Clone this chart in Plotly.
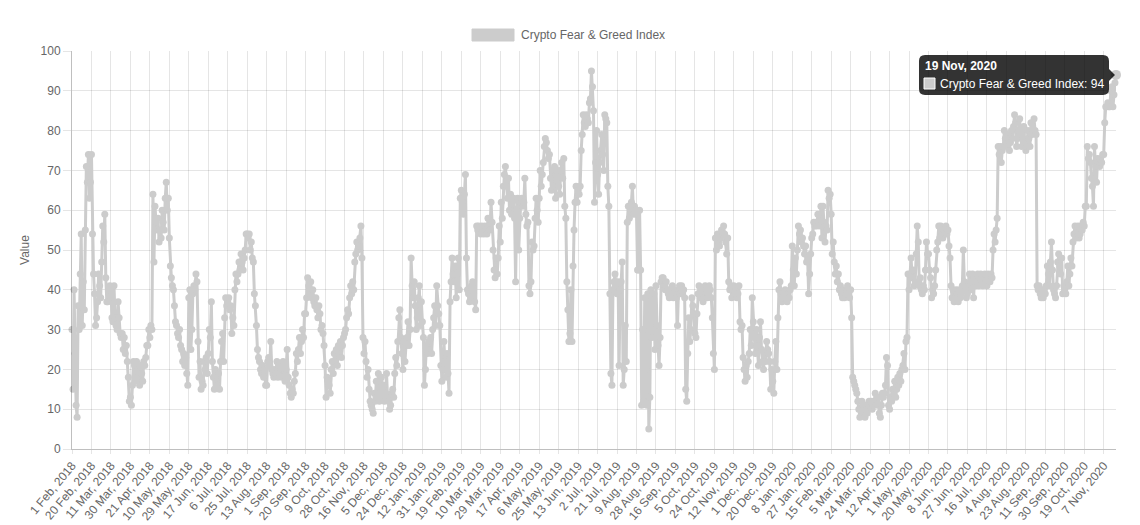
import pandas as pd
import plotly.graph_objects as go

# ---------------- data ----------------
MISSING_DAYS = ["2018-04-14", "2018-04-15", "2018-04-16"]
SERIES_NAME = "Crypto Fear & Greed Index"

values_2018 = [
    30,15,40,24,11,8,36,30,44,54,31,42,35,55,71,67,74,63,67,
    74,54,44,39,31,33,37,44,41,38,47,56,52,59,43,37,37,40,41,
    40,33,32,41,33,31,30,37,33,29,28,29,25,28,24,26,22,18,12,
    13,11,16,22,21,17,22,18,20,16,21,19,17,22,21,23,26,26,30,
    28,31,30,64,47,61,57,55,58,52,55,53,60,57,55,63,67,60,63,
    53,46,43,41,40,36,32,31,29,28,30,26,25,22,24,21,23,19,16,
    38,40,25,30,39,41,40,44,42,27,18,22,15,17,16,22,20,23,19,
    24,30,28,37,22,18,15,20,17,16,19,15,22,27,29,22,33,38,36,
    37,38,35,36,29,33,31,40,44,42,44,47,45,49,47,45,48,50,54,
    54,53,54,50,52,48,47,39,36,31,25,23,22,20,19,21,18,20,16,
    16,22,23,21,27,20,19,18,20,19,22,18,21,19,20,18,22,20,17,
    20,25,18,16,14,13,15,14,17,19,24,22,25,28,24,27,30,28,34,
    34,38,43,41,39,42,38,40,37,36,38,35,33,36,34,30,31,29,26,
    21,13,18,17,16,14,20,22,19,24,22,25,21,26,24,27,23,26,28,
    29,30,33,35,34,38,41,39,42,40,47,49,52,50,51,53,56,48,28,
    24,27,22,18,20,15,12,11,10,9,14,12,17,13,19,12,15,18,13,
    16,12,14,19,13,12,10,11,14,15,13,19,23,21,27,33,35,28,24,
    20,27,22,26,28,32,26,30,
]

values_2019 = [
    48,41,38,42,36,30,33,38,41,31,37,
    32,28,16,20,26,24,27,25,28,24,30,33,36,31,41,36,34,31,21,
    17,20,27,22,18,24,19,14,37,42,48,44,42,46,38,44,48,40,63,
    65,62,59,64,69,48,40,39,37,38,41,42,39,37,35,56,55,56,55,
    54,56,55,54,56,55,54,58,56,55,62,57,50,45,43,48,44,48,56,
    52,62,58,66,69,71,66,63,68,60,64,59,62,63,58,42,60,63,50,
    58,62,63,61,62,68,59,56,57,41,39,42,52,50,51,58,63,60,57,
    63,70,66,69,72,76,78,77,75,73,74,68,65,70,66,71,63,69,70,
    66,64,70,72,68,73,61,58,42,35,27,29,40,27,46,55,62,66,62,
    65,64,66,75,79,84,82,81,84,83,82,87,88,95,91,85,62,72,80,
    69,64,72,75,79,74,70,84,83,82,66,61,39,19,16,40,42,44,41,
    39,42,21,40,42,47,16,20,31,22,57,61,58,60,62,66,59,61,60,
    59,45,45,60,45,11,30,12,38,20,11,39,5,13,40,28,36,39,25,
    41,31,26,21,28,42,43,43,41,40,42,40,39,38,40,39,41,38,40,
    39,38,31,40,41,39,41,39,40,38,15,12,24,33,27,30,38,36,34,
    29,28,34,39,41,38,40,39,37,38,41,40,38,39,41,40,38,33,24,
    20,53,50,54,52,51,53,55,54,56,54,52,49,53,42,40,41,38,40,
    41,39,40,38,39,41,32,30,31,23,20,17,21,18,22,24,30,26,38,
    32,28,24,30,26,21,28,32,25,22,20,24,22,27,25,24,22,15,20,
    17,14,22,27,20,33,40,42,39,37,38,39,
]

values_2020 = [
    40,38,37,39,38,40,41,
    51,45,41,48,44,50,56,54,55,52,53,51,49,51,47,48,39,44,49,
    53,54,57,56,57,56,59,57,56,61,53,61,57,52,56,55,65,63,64,
    59,49,52,47,44,46,42,44,40,41,39,38,40,38,39,40,41,39,38,
    40,33,18,17,16,15,14,12,10,8,10,12,11,9,8,11,9,10,12,
    11,12,10,11,12,14,12,11,13,9,8,11,14,13,14,16,23,21,11,
    10,13,12,15,14,17,13,15,18,16,19,17,20,21,24,20,27,28,44,
    40,44,48,43,45,41,42,49,56,52,41,43,40,39,41,40,45,52,49,
    49,45,43,38,40,39,41,45,50,52,56,53,56,54,53,55,54,56,54,
    55,51,48,41,38,40,37,38,40,39,37,40,38,39,41,50,42,40,38,
    39,41,44,42,40,44,38,43,41,42,44,41,43,44,42,41,43,44,42,
    41,44,43,42,44,43,50,54,52,55,58,76,74,76,72,75,76,80,78,
    76,79,78,75,77,80,78,81,84,82,76,78,80,83,79,76,78,81,77,
    75,76,80,78,76,82,79,80,83,80,79,41,40,41,39,38,40,38,40,
    39,41,46,44,41,47,52,45,40,39,38,41,47,49,46,44,48,39,41,
    40,39,42,46,41,44,48,46,52,54,56,53,55,56,53,54,56,55,57,
    56,61,61,76,73,74,72,68,66,61,76,71,67,73,72,71,73,72,74,
    74,82,86,86,87,86,86,90,91,86,89,92,94,
]

values = values_2018 + values_2019 + values_2020

days = pd.date_range("2018-02-01", "2020-11-19", freq="D")
days = days[~days.strftime("%Y-%m-%d").isin(MISSING_DAYS)]
dates = [f"{d.day} {d.strftime('%b')}, {d.year}" for d in days]
assert len(dates) == len(values), (len(dates), len(values))

TICK_STEP = 19
tick_labels = dates[::TICK_STEP]

# ---------------- style ----------------
W, H = 1140, 525
L, R, T, B = 72, 24, 51, 76
PW, PH = W - L - R, H - T - B
GRAY = "rgb(204,204,204)"
TXT = "#666666"
GRID = "rgba(0,0,0,0.1)"
AXIS = "rgba(0,0,0,0.25)"
FONT = "Liberation Sans, Arial, Helvetica, sans-serif"


def px(xp):
    return (xp - L) / PW


def py(yp):
    return (H - B - yp) / PH


fig = go.Figure()
fig.add_trace(go.Scatter(
    x=dates, y=values, mode="lines+markers", name=SERIES_NAME,
    line=dict(color=GRAY, width=3),
    marker=dict(color=GRAY, size=7),
    cliponaxis=False, showlegend=False,
))
fig.add_trace(go.Scatter(
    x=[dates[-1]], y=[values[-1]], mode="markers",
    marker=dict(color=GRAY, size=10), cliponaxis=False, showlegend=False,
))

# legend (Chart.js style box + label)
shapes = [
    dict(type="rect", xref="paper", yref="paper",
         x0=px(472), x1=px(514), y0=py(41), y1=py(29),
         fillcolor=GRAY, line=dict(color=GRAY, width=1)),
]

# tooltip box with rounded corners and caret
bx0, bx1, by0, by1, rr = 919, 1109, 55, 95, 6
cy = 75


def P(x, y):
    return f"{px(x):.5f},{py(y):.5f}"


path = (
    f"M {P(bx0+rr, by0)} L {P(bx1-rr, by0)} Q {P(bx1, by0)} {P(bx1, by0+rr)} "
    f"L {P(bx1, cy-6)} L {P(bx1+6, cy)} L {P(bx1, cy+6)} "
    f"L {P(bx1, by1-rr)} Q {P(bx1, by1)} {P(bx1-rr, by1)} "
    f"L {P(bx0+rr, by1)} Q {P(bx0, by1)} {P(bx0, by1-rr)} "
    f"L {P(bx0, by0+rr)} Q {P(bx0, by0)} {P(bx0+rr, by0)} Z"
)
shapes.append(dict(type="path", xref="paper", yref="paper", path=path,
                   fillcolor="rgba(0,0,0,0.8)", line=dict(width=0)))
shapes.append(dict(type="rect", xref="paper", yref="paper",
                   x0=px(924), x1=px(935), y0=py(89), y1=py(78),
                   fillcolor=GRAY, line=dict(color="white", width=1)))

annotations = [
    dict(xref="paper", yref="paper", x=px(519), y=py(35), xanchor="left", yanchor="middle",
         text=SERIES_NAME, showarrow=False, font=dict(family=FONT, size=12, color=TXT)),
    dict(xref="paper", yref="paper", x=px(923), y=py(66), xanchor="left", yanchor="middle",
         text=f"<b>{dates[-1]}</b>", showarrow=False, font=dict(family=FONT, size=12, color="white")),
    dict(xref="paper", yref="paper", x=px(938), y=py(84), xanchor="left", yanchor="middle",
         text=f"{SERIES_NAME}: {values[-1]}", showarrow=False, font=dict(family=FONT, size=12, color="white")),
]

fig.update_layout(
    width=W, height=H,
    margin=dict(l=L, r=R, t=T, b=B, pad=0, autoexpand=False),
    paper_bgcolor="white", plot_bgcolor="white",
    font=dict(family=FONT, size=12, color=TXT),
    shapes=shapes, annotations=annotations,
    hovermode=False,
    xaxis=dict(
        type="category", range=[0, len(dates) - 1], automargin=False,
        tickmode="array", tickvals=tick_labels, ticktext=tick_labels,
        tickangle=-50, tickfont=dict(size=12, color=TXT),
        showgrid=True, gridcolor=GRID, gridwidth=1,
        ticks="outside", ticklen=4, tickcolor=GRID,
        showline=True, linecolor=AXIS, linewidth=1, zeroline=False,
    ),
    yaxis=dict(
        range=[0, 100], tick0=0, dtick=10, automargin=False,
        tickfont=dict(size=12, color=TXT),
        showgrid=True, gridcolor=GRID, gridwidth=1,
        ticks="outside", ticklen=8, tickcolor=GRID,
        showline=True, linecolor=AXIS, linewidth=1, zeroline=False,
        title=dict(text="Value", font=dict(size=12, color=TXT), standoff=8),
    ),
)

fig.write_html("out.html", config={"displayModeBar": False},
               post_script="document.body.style.margin='0';")
